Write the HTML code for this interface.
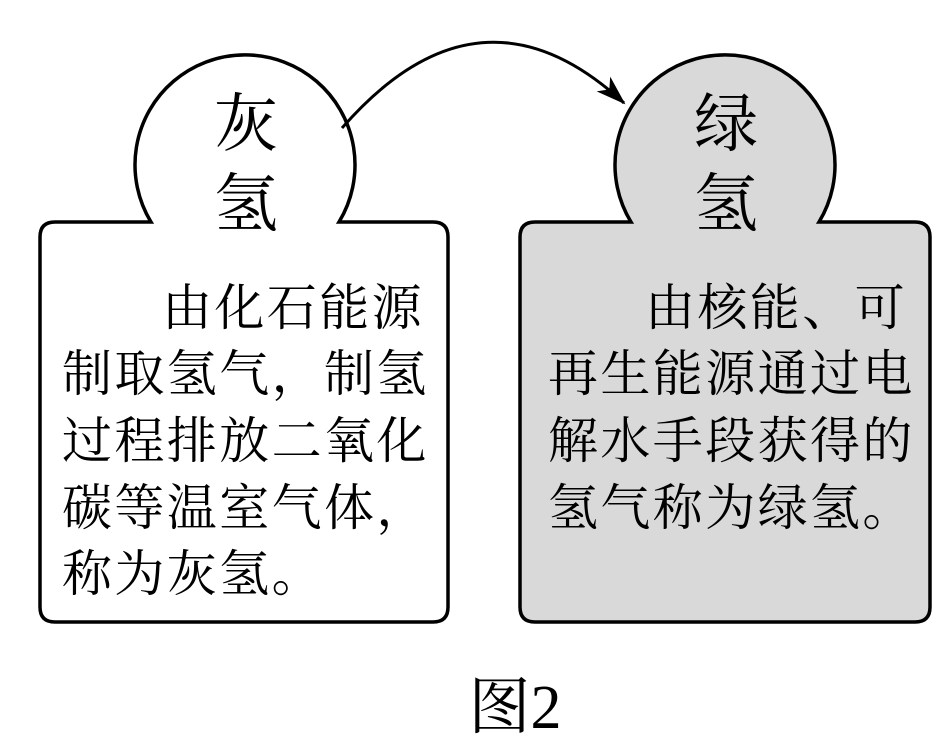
<!DOCTYPE html>
<html><head><meta charset="utf-8"><style>
html,body{margin:0;padding:0;background:#fff;}
svg text{font-family:"Liberation Serif","Noto Serif CJK SC",serif;fill:#000;}
</style></head><body>
<svg width="945" height="743" viewBox="0 0 945 743" xmlns="http://www.w3.org/2000/svg">
<defs><marker id="ah" markerWidth="12" markerHeight="10" refX="11" refY="5" orient="auto" markerUnits="userSpaceOnUse" viewBox="0 0 12 10">
<path d="M0,0 L12,5 L0,10 L3,5 z" fill="#000"/></marker>
<marker id="ah2" viewBox="0 0 30 20" refX="28" refY="10" markerWidth="30" markerHeight="20" orient="auto" markerUnits="userSpaceOnUse"><path d="M0,0 L30,10 L0,20 L8,10 z" fill="#000"/></marker></defs>
<path d="M151,222 A110,110 0 1 1 339,222 L433,222 Q448,222 448,237 L448,607 Q448,622 433,622 L55,622 Q40,622 40,607 L40,237 Q40,222 55,222 Z" fill="#fff" stroke="#000" stroke-width="3.5"/>
<path d="M631,222 A110,110 0 1 1 819,222 L915,222 Q930,222 930,237 L930,607 Q930,622 915,622 L535,622 Q520,622 520,607 L520,237 Q520,222 535,222 Z" fill="#d9d9d9" stroke="#000" stroke-width="3.5"/>
<path d="M342,128 Q480,-30 624,103" fill="none" stroke="#000" stroke-width="3" marker-end="url(#ah2)"/>
<g font-size="64" text-anchor="middle">
<text x="246" y="146">灰</text><text x="246" y="226">氢</text>
<text x="726" y="146">绿</text><text x="726" y="226">氢</text>
</g>
<g font-size="50" letter-spacing="2.4">
<text x="162" y="325">由化石能源</text>
<text x="62" y="391">制取氢气，制氢</text>
<text x="62" y="458">过程排放二氧化</text>
<text x="62" y="525">碳等温室气体，</text>
<text x="62" y="591">称为灰氢。</text>
<text x="645" y="325">由核能、可</text>
<text x="548" y="391">再生能源通过电</text>
<text x="548" y="458">解水手段获得的</text>
<text x="548" y="525">氢气称为绿氢。</text>
</g>
<text x="515" y="728" font-size="62" text-anchor="middle">图2</text>
</svg>
</body></html>
